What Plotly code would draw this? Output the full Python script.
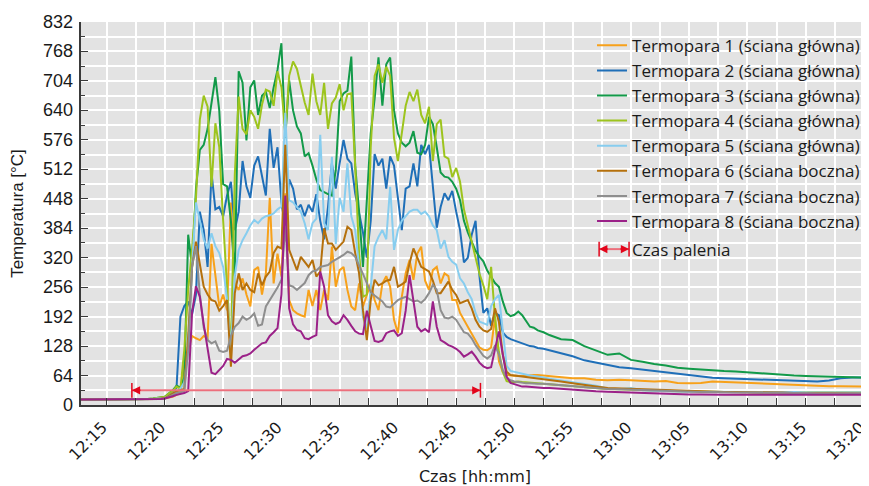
import plotly.graph_objects as go

DAY = "2024-01-01 "

# ---- time axis (hh:mm:ss) ----
TIMES_PRE = ["12:12:48", "12:14:00", "12:15:00", "12:16:00", "12:17:00",
             "12:18:00", "12:18:30", "12:19:00", "12:19:20", "12:19:40"]
TIMES_MAIN = """
12:20:00 12:20:20 12:20:40 12:21:00 12:21:20 12:21:40 12:22:00 12:22:20 12:22:40 12:23:00
12:23:20 12:23:40 12:24:00 12:24:20 12:24:40 12:25:00 12:25:20 12:25:40 12:26:00 12:26:20
12:26:40 12:27:00 12:27:20 12:27:40 12:28:00 12:28:20 12:28:40 12:29:00 12:29:20 12:29:40
12:30:00 12:30:20 12:30:40 12:31:00 12:31:20 12:31:40 12:32:00 12:32:20 12:32:40 12:33:00
12:33:20 12:33:40 12:34:00 12:34:20 12:34:40 12:35:00 12:35:20 12:35:40 12:36:00 12:36:20
12:36:40 12:37:00 12:37:20 12:37:40 12:38:00 12:38:20 12:38:40 12:39:00 12:39:20 12:39:40
12:40:00 12:40:20 12:40:40 12:41:00 12:41:20 12:41:40 12:42:00 12:42:20 12:42:40 12:43:00
12:43:20 12:43:40 12:44:00 12:44:20 12:44:40 12:45:00 12:45:20 12:45:40 12:46:00 12:46:20
12:46:40 12:47:00 12:47:20 12:47:40 12:48:00 12:48:20 12:48:40 12:49:00 12:49:20 12:49:40
12:50:00 12:50:20 12:50:40 12:51:00 12:51:20 12:51:40 12:52:00
""".split()
TIMES_TAIL = ["12:52:30", "12:53:00", "12:54:00", "12:55:00", "12:56:00", "12:57:00",
              "12:58:00", "12:59:00", "13:00:00", "13:01:00", "13:02:00", "13:03:00",
              "13:04:00", "13:05:00", "13:06:00", "13:07:00", "13:08:00", "13:09:00",
              "13:10:00", "13:11:00", "13:12:00", "13:13:00", "13:14:00", "13:15:00",
              "13:16:00", "13:17:00", "13:18:00", "13:19:00", "13:20:00", "13:20:30"]

# ---- series values [°C] ----
T1_PRE = [12, 12, 12, 12, 12, 12, 12, 13, 13, 14]
T1_MAIN = [14, 16, 18, 22, 25, 90, 120, 150, 145, 141,
           150, 145, 350, 280, 214, 240, 206, 440, 264, 250,
           275, 240, 214, 293, 300, 240, 286, 450, 264, 329,
           279, 460, 228, 206, 199, 195, 192, 250, 215, 250,
           206, 250, 228, 344, 257, 293, 300, 250, 214, 206,
           264, 214, 240, 264, 228, 206, 264, 280, 257, 185,
           156, 235, 286, 315, 272, 329, 344, 270, 250, 293,
           300, 264, 286, 280, 228, 228, 200, 185, 170, 156,
           140, 125, 120, 119, 125, 190, 95, 72, 65, 64,
           63, 63, 63, 64, 64, 65, 65]
T1_TAIL = [64, 62, 60, 58, 58, 55, 54, 55, 54, 52, 51, 52, 48, 47, 48,
           51, 50, 49, 47, 46, 46, 45, 44, 43, 42, 41, 41, 40, 40, 40]

T2_PRE = [12, 12, 12, 12, 12, 12, 12, 13, 14, 15]
T2_MAIN = [18, 22, 28, 38, 192, 215, 225, 197, 240, 420,
           380, 300, 505, 425, 430, 410, 455, 485, 380, 420,
           530, 475, 450, 520, 540, 495, 455, 600, 515, 560,
           440, 385, 490, 470, 425, 435, 410, 435, 420, 458,
           400, 360, 430, 525, 470, 525, 576, 535, 525, 460,
           420, 375, 320, 400, 545, 520, 535, 470, 540, 520,
           450, 380, 470, 475, 525, 475, 565, 545, 565, 475,
           385, 430, 460, 445, 465, 420, 380, 310, 320, 370,
           400, 280, 200, 210, 172, 200, 195, 158, 148, 143,
           140, 136, 133, 130, 128, 127, 124]
T2_TAIL = [122, 119, 112, 106, 97, 92, 86, 82, 80, 77, 74, 71, 68, 64, 61,
           59, 58, 57, 56, 55, 55, 54, 53, 52, 51, 53, 58, 60, 60, 60]

T3_PRE = [12, 12, 12, 12, 12, 12, 13, 14, 15, 17]
T3_MAIN = [18, 25, 32, 42, 38, 60, 370, 300, 470, 554,
           565, 600, 660, 712, 640, 480, 475, 400, 280, 725,
           700, 575, 690, 705, 630, 672, 680, 645, 690, 728,
           786, 580, 705, 640, 605, 590, 540, 547, 520, 490,
           467, 462, 458, 455, 510, 660, 677, 683, 757, 520,
           420, 300, 450, 590, 665, 755, 650, 740, 755, 640,
           590, 570, 562, 570, 595, 548, 545, 565, 626, 610,
           560, 505, 496, 494, 485, 470, 445, 400, 375, 355,
           335, 322, 312, 292, 278, 265, 257, 225, 200, 193,
           196, 203, 195, 182, 170, 168, 162]
T3_TAIL = [158, 152, 143, 141, 128, 118, 109, 112, 98, 94, 89, 86, 81, 79, 77,
           75, 74, 73, 71, 69, 67, 65, 64, 63, 62, 61, 60, 60, 59, 59]

T4_PRE = [12, 12, 12, 12, 12, 12, 13, 14, 15, 16]
T4_MAIN = [18, 25, 30, 40, 35, 120, 250, 340, 450, 620,
           672, 648, 474, 612, 560, 400, 250, 115, 500, 670,
           600, 588, 640, 626, 600, 652, 685, 681, 650, 725,
           690, 590, 715, 746, 730, 692, 657, 630, 720, 660,
           630, 700, 600, 655, 668, 697, 640, 675, 677, 520,
           330, 235, 240, 560, 715, 740, 700, 735, 715, 580,
           530, 590, 650, 680, 660, 685, 630, 612, 648, 530,
           610, 620, 540, 535, 495, 515, 485, 425, 390, 360,
           325, 285, 260, 230, 300, 190, 115, 72, 52, 50,
           50, 51, 50, 49, 48, 47, 47]
T4_TAIL = [46, 45, 43, 40, 38, 37, 35, 34, 33, 32, 31, 31, 30, 30, 29,
           29, 28, 28, 28, 27, 27, 27, 27, 27, 27, 27, 27, 27, 27, 27]

T5_PRE = [12, 12, 12, 12, 12, 12, 12, 13, 14, 15]
T5_MAIN = [16, 20, 25, 30, 35, 50, 120, 300, 440, 400,
           360, 340, 373, 345, 330, 300, 228, 119, 280, 337,
           358, 373, 390, 402, 395, 405, 410, 412, 416, 425,
           431, 635, 445, 440, 430, 420, 395, 360, 395, 405,
           587, 395, 380, 539, 350, 450, 420, 525, 410, 380,
           300, 190, 165, 264, 345, 365, 380, 360, 474, 337,
           380, 400, 410, 420, 424, 424, 415, 420, 410, 390,
           380, 340, 358, 322, 311, 305, 275, 264, 245, 230,
           200, 181, 178, 174, 215, 230, 239, 156, 85, 74,
           72, 70, 67, 65, 64, 63, 62]
T5_TAIL = [60, 57, 53, 50, 46, 42, 36, 34, 37, 32, 31, 30, 30, 29, 29,
           29, 29, 28, 28, 28, 28, 28, 28, 27, 27, 27, 27, 27, 27, 27]

T6_PRE = [12, 12, 12, 12, 12, 12, 12, 13, 13, 14]
T6_MAIN = [15, 20, 26, 30, 32, 35, 150, 300, 355, 310,
           257, 240, 228, 225, 205, 215, 228, 83, 243, 286,
           250, 264, 250, 245, 286, 260, 279, 290, 330, 344,
           340, 565, 337, 315, 293, 322, 310, 300, 315, 279,
           290, 384, 351, 351, 337, 345, 355, 387, 380, 330,
           286, 206, 141, 228, 272, 260, 264, 270, 272, 300,
           257, 262, 268, 308, 340, 320, 300, 295, 290, 270,
           243, 243, 255, 268, 250, 239, 221, 225, 228, 210,
           185, 170, 162, 159, 165, 210, 181, 110, 72, 65,
           64, 63, 62, 61, 60, 59, 58]
T6_TAIL = [57, 55, 51, 47, 43, 40, 37, 36, 35, 34, 33, 32, 31, 30, 30,
           29, 28, 28, 28, 27, 27, 27, 26, 26, 26, 25, 25, 25, 25, 25]

T7_PRE = [12, 12, 12, 12, 12, 12, 12, 12, 13, 13]
T7_MAIN = [14, 18, 22, 26, 28, 30, 120, 300, 345, 240,
           168, 141, 134, 138, 118, 115, 118, 150, 170, 178,
           192, 185, 190, 199, 172, 175, 214, 228, 240, 255,
           272, 390, 260, 257, 250, 257, 265, 282, 290, 292,
           300, 302, 304, 311, 316, 320, 326, 333, 330, 322,
           305, 285, 265, 245, 238, 232, 225, 214, 212, 220,
           228, 232, 235, 230, 225, 227, 222, 230, 243, 261,
           250, 206, 190, 188, 192, 185, 170, 158, 155, 145,
           130, 118, 107, 101, 108, 130, 110, 76, 58, 54,
           51, 50, 48, 47, 47, 46, 46]
T7_TAIL = [46, 45, 43, 41, 38, 37, 35, 34, 33, 32, 31, 30, 29, 29, 28,
           28, 27, 27, 27, 27, 26, 26, 26, 26, 25, 25, 25, 25, 25, 25]

T8_PRE = [12, 12, 12, 12, 12, 12, 12, 12, 13, 13]
T8_MAIN = [14, 16, 19, 22, 24, 26, 30, 200, 258, 235,
           175, 125, 70, 67, 75, 85, 100, 98, 92, 100,
           106, 108, 112, 120, 127, 134, 136, 150, 158, 167,
           240, 455, 210, 175, 163, 160, 145, 143, 148, 152,
           290, 257, 195, 182, 176, 180, 195, 185, 172, 160,
           155, 154, 205, 170, 139, 137, 140, 156, 160, 162,
           150, 156, 205, 282, 225, 170, 160, 165, 158, 225,
           170, 141, 136, 130, 127, 122, 115, 105, 110, 116,
           105, 92, 84, 80, 82, 125, 160, 110, 62, 48,
           45, 42, 40, 40, 39, 38, 38]
T8_TAIL = [37, 37, 35, 33, 31, 30, 29, 28, 27, 26, 25, 24, 24, 23, 23,
           22, 22, 22, 22, 22, 22, 22, 22, 22, 22, 22, 22, 22, 22, 22]

NAMES = ["Termopara 1 (ściana główna)", "Termopara 2 (ściana główna)",
         "Termopara 3 (ściana główna)", "Termopara 4 (ściana główna)",
         "Termopara 5 (ściana główna)", "Termopara 6 (ściana boczna)",
         "Termopara 7 (ściana boczna)", "Termopara 8 (ściana boczna)"]
COLORS = ["#f7a11a", "#1f6fb8", "#129a49", "#9dc41d",
          "#87cdef", "#b5700c", "#8e8e8e", "#9b2188"]

BURN_LABEL = "Czas palenia"
BURN_START = "12:17:10"
BURN_END = "12:47:05"
BURN_LEVEL = 32

Y_TICKS = [0, 64, 128, 192, 256, 320, 384, 448, 512, 576, 640, 704, 768, 832]

# ---------------------------------------------------------------
times = [DAY + t for t in TIMES_PRE + TIMES_MAIN + TIMES_TAIL]
series = [T1_PRE + T1_MAIN + T1_TAIL, T2_PRE + T2_MAIN + T2_TAIL,
          T3_PRE + T3_MAIN + T3_TAIL, T4_PRE + T4_MAIN + T4_TAIL,
          T5_PRE + T5_MAIN + T5_TAIL, T6_PRE + T6_MAIN + T6_TAIL,
          T7_PRE + T7_MAIN + T7_TAIL, T8_PRE + T8_MAIN + T8_TAIL]

RED = "#e3051b"
PINK = "#ec6f7c"
AX = "#3a3a3a"
TXT = "#1a1a1a"

fig = go.Figure()
for name, col, vals in zip(NAMES, COLORS, series):
    fig.add_trace(go.Scatter(x=times, y=vals, mode="lines", name=name,
                             legendgroup="tc", line=dict(color=col, width=2)))
fig.add_trace(go.Scatter(x=[None], y=[None], mode="lines", name=BURN_LABEL,
                         legendgroup="burn",
                         line=dict(color="rgba(0,0,0,0)", width=2)))

# burn-time arrow in the chart
fig.add_shape(type="line", x0=DAY + BURN_START, x1=DAY + BURN_END,
              y0=BURN_LEVEL, y1=BURN_LEVEL, line=dict(color=PINK, width=2))
for t in (BURN_START, BURN_END):
    fig.add_shape(type="line", x0=DAY + t, x1=DAY + t,
                  y0=BURN_LEVEL - 16, y1=BURN_LEVEL + 16,
                  line=dict(color=RED, width=1.5))
fig.add_annotation(x=DAY + BURN_START, y=BURN_LEVEL, ax=10, ay=0, text="",
                   showarrow=True, arrowhead=2, arrowsize=1.1, arrowwidth=1.5,
                   arrowcolor=RED, standoff=0, startstandoff=0)
fig.add_annotation(x=DAY + BURN_END, y=BURN_LEVEL, ax=-10, ay=0, text="",
                   showarrow=True, arrowhead=2, arrowsize=1.1, arrowwidth=1.5,
                   arrowcolor=RED, standoff=0, startstandoff=0)

# legend symbol for "Czas palenia"
LX0, LX1, LY = 0.6575, 0.6955, 0.407
fig.add_shape(type="line", xref="paper", yref="paper", x0=LX0, x1=LX1, y0=LY, y1=LY,
              line=dict(color=PINK, width=2))
for lx in (LX0, LX1):
    fig.add_shape(type="line", xref="paper", yref="paper", x0=lx, x1=lx,
                  y0=LY - 0.019, y1=LY + 0.019, line=dict(color=RED, width=1.5))
fig.add_annotation(xref="paper", yref="paper", x=LX0, y=LY, ax=10, ay=0, text="",
                   showarrow=True, arrowhead=2, arrowsize=1.1, arrowwidth=1.5,
                   arrowcolor=RED, standoff=0, startstandoff=0)
fig.add_annotation(xref="paper", yref="paper", x=LX1, y=LY, ax=-10, ay=0, text="",
                   showarrow=True, arrowhead=2, arrowsize=1.1, arrowwidth=1.5,
                   arrowcolor=RED, standoff=0, startstandoff=0)

# y tick labels placed on the y scale, close to the axis line
for v in Y_TICKS:
    fig.add_annotation(xref="paper", yref="y", x=0, y=v, text=str(v),
                       xanchor="right", yanchor="middle", xshift=-6,
                       showarrow=False, font=dict(size=18, color=TXT))

# the page adds an 8 px body margin, so the figure is 8 px smaller each way
fig.update_layout(
    width=861, height=478,
    margin=dict(l=73, r=0, t=14, b=81),
    paper_bgcolor="white", plot_bgcolor="#e3e3e3",
    font=dict(family="Liberation Sans, Arial, sans-serif", size=16, color=TXT),
    showlegend=True,
    legend=dict(x=0.6485, y=0.985, xanchor="left", yanchor="top",
                bgcolor="rgba(0,0,0,0)",
                font=dict(family="Open Sans, Liberation Sans, sans-serif", size=17),
                tracegroupgap=3, itemwidth=30, traceorder="grouped"),
)

fig.update_xaxes(
    type="date", range=[DAY + "12:12:48", DAY + "13:20:26"],
    tick0=DAY + "12:15:00", dtick=300000, tickformat="%H:%M", tickangle=-45,
    showgrid=True, gridcolor="white", gridwidth=1.5,
    minor=dict(tick0=DAY + "12:15:00", dtick=150000, showgrid=True, gridcolor="white",
               gridwidth=1.5, ticks="inside", ticklen=7, tickcolor=AX),
    ticks="inside", ticklen=7, tickcolor=AX, tickwidth=1,
    showline=True, linecolor=AX, linewidth=1.5, zeroline=False,
    tickfont=dict(family="DejaVu Sans", size=16, color=TXT),
    ticklabelstandoff=5, ticklabelshift=-4, ticklabeloverflow="allow",
    title=dict(text="Czas [hh:mm]", font=dict(family="DejaVu Sans", size=16), standoff=12),
    automargin=False,
)
fig.update_yaxes(
    range=[0, 832], tickvals=Y_TICKS, showticklabels=False,
    showgrid=True, gridcolor="white", gridwidth=1.5,
    minor=dict(dtick=32, tick0=0, showgrid=True, gridcolor="white", gridwidth=1.5,
               ticks="inside", ticklen=4, tickcolor=AX),
    ticks="inside", ticklen=7, tickcolor=AX, tickwidth=1,
    showline=True, linecolor=AX, linewidth=1.5, zeroline=False,
    title=dict(text="Temperatura [°C]", font=dict(size=17), standoff=52),
    automargin=False,
)

fig.write_html("out.html")
